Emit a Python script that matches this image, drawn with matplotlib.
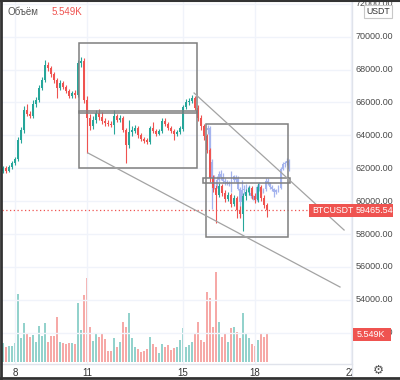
import matplotlib.pyplot as plt
import numpy as np
from matplotlib.patches import Rectangle
from matplotlib.lines import Line2D
from matplotlib.transforms import blended_transform_factory, Bbox, TransformedBbox

plt.rcParams['font.family'] = ['Liberation Sans', 'DejaVu Sans']

# BTCUSDT, 3h candles starting 7 Nov 12:00
opens = [61834, 62017, 61834, 62078, 62321, 62564, 63719, 64327, 65543, 65300,
         65178, 65908, 66151, 66881, 67367, 68279, 68097, 67732, 67367, 66881,
         67185, 66941, 66698, 66394, 66577, 66455, 68401, 68522, 66151, 65057,
         64570, 64935, 65361, 65117, 64874, 64753, 64692, 64631, 65178, 64935,
         65057, 64327, 63415, 64205, 64266, 64449, 64023, 63780, 63719, 63597,
         64449, 64266, 64084, 64266, 64874, 64692, 64449, 64266, 64084, 64205,
         64388, 65725, 66030, 66090, 66273, 65665, 65057, 64570, 63962, 63111,
         61409, 60801, 60375, 60922, 60497, 60132, 60375, 59828, 60193, 59463,
         59219, 60314, 60557, 60801, 60314, 60071, 60861, 60193, 59767]
highs = [62138, 62138, 62199, 62443, 62685, 63901, 64509, 65786, 65908, 65482,
         66151, 66333, 67063, 67549, 68583, 68461, 68218, 67853, 67489, 67367,
         67306, 67063, 66820, 66698, 66759, 68583, 68765, 68705, 66394, 65300,
         65178, 65543, 65604, 65421, 65057, 64935, 64874, 65543, 65300, 65239,
         65178, 64449, 64935, 64570, 64631, 64570, 64145, 63901, 63841, 64570,
         64813, 64388, 64388, 65057, 65057, 64813, 64570, 64388, 64327, 64570,
         65847, 66212, 66273, 66455, 66394, 65847, 65239, 64692, 64084, 63233,
         61591, 60983, 61105, 61044, 60679, 60557, 60497, 60375, 60314, 59706,
         60497, 60740, 60922, 60922, 60497, 61105, 60983, 60375, 59889]
lows = [61713, 61713, 61773, 61956, 62199, 62443, 63537, 64145, 65178, 65057,
        65057, 65725, 66030, 66759, 67245, 67914, 67549, 67185, 66273, 66759,
        66820, 66577, 66273, 66273, 66273, 66333, 68157, 65969, 62929, 64327,
        64388, 64753, 64935, 64692, 64570, 64570, 64509, 64084, 64813, 64813,
        64205, 62321, 63233, 63962, 64145, 63841, 63658, 63537, 63476, 63476,
        64145, 63962, 64023, 64145, 64570, 64327, 64145, 63719, 63962, 64084,
        64266, 65604, 65847, 65969, 65543, 64874, 64327, 63719, 62929, 61165,
        60557, 58673, 60253, 60314, 59949, 60010, 59645, 59706, 58977, 58977,
        58187, 60071, 60375, 60132, 59889, 59949, 60010, 59585, 59037]
closes = [62017, 61834, 62078, 62321, 62564, 63719, 64327, 65543, 65300, 65178,
          65908, 66151, 66881, 67367, 68279, 68097, 67732, 67367, 66881, 67185,
          66941, 66698, 66394, 66577, 66455, 68401, 68522, 66151, 65057, 64570,
          64935, 65361, 65117, 64874, 64753, 64692, 64631, 65178, 64935, 65057,
          64327, 63415, 64205, 64327, 64449, 64023, 63780, 63658, 63597, 64449,
          64266, 64084, 64266, 64874, 64692, 64449, 64266, 64084, 64205, 64449,
          65725, 66030, 66090, 66273, 65665, 65057, 64570, 63962, 63111, 61409,
          60801, 60375, 60922, 60497, 60132, 60375, 59828, 60193, 59463, 59219,
          60314, 60557, 60801, 60314, 60071, 60861, 60193, 59767, 59465.54]
# volume in thousands
volumes = [3.77, 2.97, 3.17, 3.17, 3.77, 13.48, 4.76, 7.73, 5.55, 4.96,
           5.35, 3.96, 7.14, 5.15, 7.73, 3.96, 5.15, 5.15, 8.92, 3.96,
           3.77, 3.57, 3.77, 3.77, 3.57, 11.69, 6.34, 13.28, 16.65, 6.94,
           4.16, 5.75, 4.96, 5.75, 4.56, 2.18, 2.18, 4.76, 2.97, 3.96,
           7.93, 6.94, 9.71, 4.76, 2.97, 2.58, 1.98, 2.18, 2.58, 4.96,
           3.57, 2.97, 1.78, 3.57, 2.97, 3.37, 2.38, 2.77, 2.97, 4.36,
           6.74, 2.97, 3.37, 3.96, 5.75, 7.93, 4.36, 3.96, 13.87, 12.68,
           6.94, 17.84, 7.93, 4.96, 5.55, 3.96, 6.74, 6.94, 5.95, 4.76,
           9.71, 5.55, 4.76, 3.57, 3.17, 4.36, 5.75, 4.96, 5.549]

first_day = 7.5
bar_step = 1 / 8
last_price = 59465.54
last_vol_txt = '5.549K'
price_ticks = [52000, 54000, 56000, 58000, 60000, 62000, 64000, 66000, 68000, 70000, 72000]
day_ticks = [8, 11, 15, 18, 22]

# drawings (day, price)
boxes = [(10.67, 15.58, 62017, 69617), (15.96, 19.38, 57821, 64692)]
thin_boxes = [(10.67, 15.58, 65340, 65480), (15.83, 19.46, 61075, 61427)]
trend_lines = [((15.46, 21.71), (66577, 58247)), ((11.04, 21.54), (62929, 54781))]
# bars pattern: copy of candles 26..64 placed into the second box
ghost_src = slice(26, 65)
ghost_days = (16.04, 19.42)
ghost_anchor = (68765, 64630)
ghost_scale = 0.87

up_c, dn_c = '#26a69a', '#ef5350'

fig = plt.figure(figsize=(4.0, 3.8), dpi=100)
pos = [2 / 400, 16 / 380, 350 / 400, 364 / 380]
axv = fig.add_axes(pos)
ax = fig.add_axes(pos)
ax.patch.set_alpha(0)
for a in (ax, axv):
    a.set_xticks([])
    a.set_yticks([])
    for s in a.spines.values():
        s.set_visible(False)
    a.set_xlim(7.458, 22.04)
ax.set_ylim(50100, 72231)
axv.set_ylim(-0.396, 71.75)

# faint grid
for p in price_ticks:
    ax.axhline(p, color='#f0f3fa', lw=1, zorder=0)
for d in day_ticks:
    ax.axvline(d, color='#f0f3fa', lw=1, zorder=0)

t = first_day + np.arange(len(closes)) * bar_step
o, h, l, c = map(np.array, (opens, highs, lows, closes))
up = c >= o
col = np.where(up, up_c, dn_c)

axv.bar(t, volumes, width=0.085, color=np.where(up, '#93d2cc', '#f6a9a7'), linewidth=0)

# ghost pattern
gt = np.linspace(ghost_days[0], ghost_days[1], len(c[ghost_src]))
g = lambda arr: ghost_anchor[1] + (arr[ghost_src] - ghost_anchor[0]) * ghost_scale
go, gh, gl, gc = g(o), g(h), g(l), g(c)
ax.vlines(gt, gl, gh, colors='#a5b4ee', lw=0.9, zorder=2)
ax.bar(gt, np.maximum(np.abs(gc - go), 25), bottom=np.minimum(go, gc), width=0.075,
       color='#a5b4ee', linewidth=0, zorder=2)

ax.vlines(t, l, h, colors=col, lw=0.8, zorder=3)
ax.bar(t, np.maximum(np.abs(c - o), 30), bottom=np.minimum(o, c), width=0.085,
       color=col, linewidth=0, zorder=3)

for x0, x1, y0, y1 in boxes + thin_boxes:
    ax.add_patch(Rectangle((x0, y0), x1 - x0, y1 - y0, fill=False, ec='#7f7f7f', lw=1.1, zorder=4))
for xs, ys in trend_lines:
    ax.plot(xs, ys, color='#a3a3a3', lw=0.9, zorder=4)

ax.axhline(last_price, color=dn_c, ls=(0, (1, 2)), lw=0.9, zorder=2)

# price scale
tr = blended_transform_factory(ax.transAxes, ax.transData)
for p in price_ticks:
    ax.text(1.0114, p, f'{p:.2f}', transform=tr, fontsize=6.5, color='#4a4a4a',
            ha='left', va='center', clip_on=False)

# time scale
tr2 = blended_transform_factory(ax.transData, ax.transAxes)
clip = TransformedBbox(Bbox([[0, 0], [352 / 400, 1]]), fig.transFigure)
for d in day_ticks:
    tx = ax.text(d, -0.025, str(d), transform=tr2, fontsize=7, color='#333333',
                 ha='center', va='center')
    tx.set_clip_box(clip)
    tx.set_clip_on(True)

# separators and frame
fig.add_artist(Line2D([352 / 400] * 2, [0, 1], color='#e0e3eb', lw=1))
fig.add_artist(Line2D([0, 352 / 400], [16 / 380] * 2, color='#e0e3eb', lw=1))
fig.add_artist(Line2D([0.002, 0.002], [0, 1], color='#333333', lw=2))
fig.add_artist(Line2D([0, 1], [0.998, 0.998], color='#333333', lw=1.5))
fig.add_artist(Line2D([0, 1], [0.004, 0.004], color='#333333', lw=2))

# last price label
fig.add_artist(Rectangle((309 / 400, 1 - 217 / 380), 84 / 400, 13 / 380, fc=dn_c, ec='none', zorder=5))
fig.text(312 / 400, 1 - 210.5 / 380, 'BTCUSDT', fontsize=6.3, color='white', va='center', zorder=6)
fig.text(356 / 400, 1 - 210.5 / 380, f'{last_price:.2f}', fontsize=6.5, color='white', va='center', zorder=6)

# last volume label
fig.add_artist(Rectangle((353 / 400, 1 - 341 / 380), 38 / 400, 13 / 380, fc=dn_c, ec='none', zorder=5))
fig.text(357 / 400, 1 - 334.5 / 380, last_vol_txt, fontsize=6.5, color='white', va='center', zorder=6)

# currency button
fig.add_artist(Rectangle((364 / 400, 1 - 18 / 380), 28 / 400, 13 / 380, fc='white', ec='#c8c8c8', lw=0.8, zorder=5))
fig.text(378 / 400, 1 - 11.5 / 380, 'USDT', fontsize=6.3, color='#333333', ha='center', va='center', zorder=6)

# legend
fig.text(8 / 400, 1 - 12 / 380, 'Объём', fontsize=7, color='#555555', va='center')
fig.text(52 / 400, 1 - 12 / 380, last_vol_txt, fontsize=7, color=dn_c, va='center')

fig.text(378 / 400, 1 - 370 / 380, '\u2699', family='DejaVu Sans', fontsize=9, color='#555555',
         ha='center', va='center')

fig.savefig('out.png', dpi=100)
